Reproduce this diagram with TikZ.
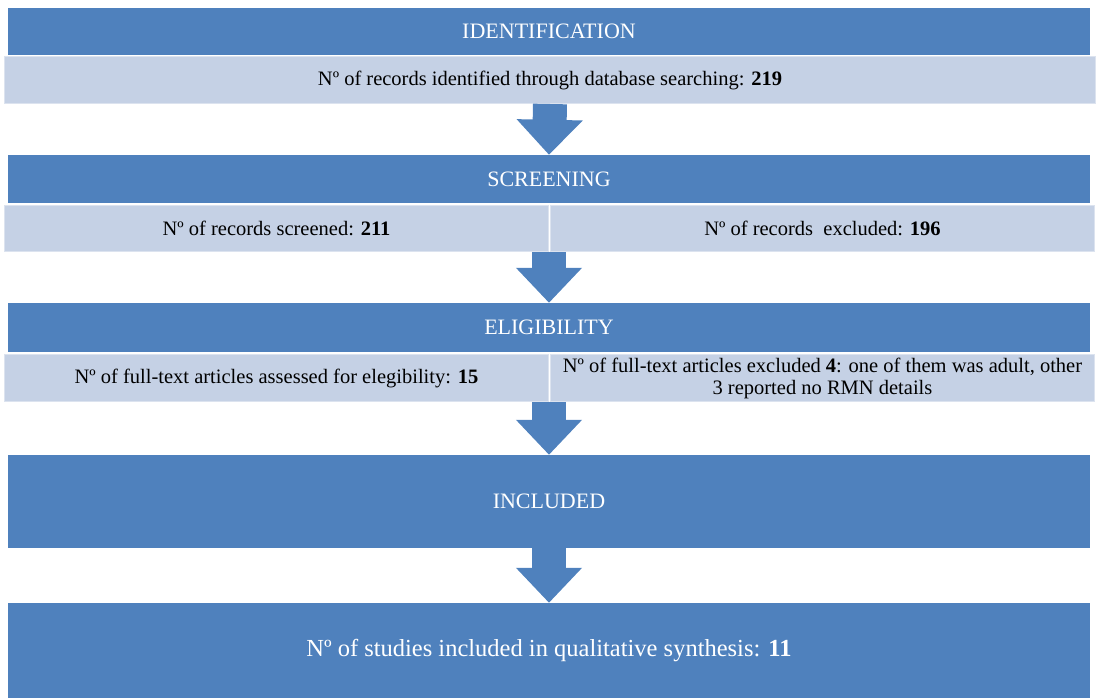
\documentclass[tikz,border=0pt]{standalone}
\usepackage{fontspec}
\setmainfont{Liberation Serif}
\usepackage{xcolor}
\usetikzlibrary{positioning, arrows.meta}

\definecolor{headblue}{HTML}{4F81BD}
\definecolor{bandblue}{HTML}{C5D1E5}
\definecolor{bandedge}{HTML}{DCE3EF}

\begin{document}
\begin{tikzpicture}[x=1pt, y=1pt,
    head/.style = {fill=headblue, text=white, minimum width=1082pt, inner sep=0pt, font=\fontsize{22}{25}\selectfont},
    band/.style = {fill=bandblue, draw=bandedge, line width=1pt, inner sep=0pt, align=center, font=\fontsize{20.5}{22}\selectfont},
    flow/.style = {headblue, line width=34pt, -{Triangle[length=35pt, width=64pt]}}]
                \useasboundingbox (0,0) rectangle (1096,-698);
                % Nodes
                \node[head, minimum height=47pt] (ident) at (549,-31.5) {IDENTIFICATION};
                \node[band, minimum width=1091pt, minimum height=47pt] (identrec) at (550,-80) {Nº of records identified through database searching: \textbf{219}};
                \node[head, minimum height=48pt] (screen) at (549,-179) {SCREENING};
                \node[band, minimum width=544pt, minimum height=46pt] (screenin) at (276.5,-228.5) {Nº of records screened: \textbf{211}};
                \node[band, minimum width=544pt, minimum height=46pt] (screenout) [right=1pt of screenin] {Nº of records\ \ excluded: \textbf{196}};
                \node[head, minimum height=49pt] (elig) at (549,-327.5) {ELIGIBILITY};
                \node[band, minimum width=544pt, minimum height=47pt] (eligin) at (276.5,-378) {Nº of full-text articles assessed for elegibility: \textbf{15}};
                \node[band, minimum width=544pt, minimum height=47pt] (eligout) [right=1pt of eligin] {Nº of full-text articles excluded \textbf{4}: one of them was adult, other\\3 reported no RMN details};
                \node[head, minimum height=93pt] (incl) at (549,-501.5) {INCLUDED};
                \node[head, minimum height=95pt, font=\fontsize{24.5}{28}\selectfont] (synth) at (549,-650.5) {Nº of studies included in qualitative synthesis: \textbf{11}};

                % Arrows
                \draw[flow] (identrec.south) -- (screen.north);
                \draw[flow] (screenin.south east) -- (elig.north);
                \draw[flow] (eligin.south east) -- (incl.north);
                \draw[flow] (incl.south) -- (synth.north);
\end{tikzpicture}
\end{document}
